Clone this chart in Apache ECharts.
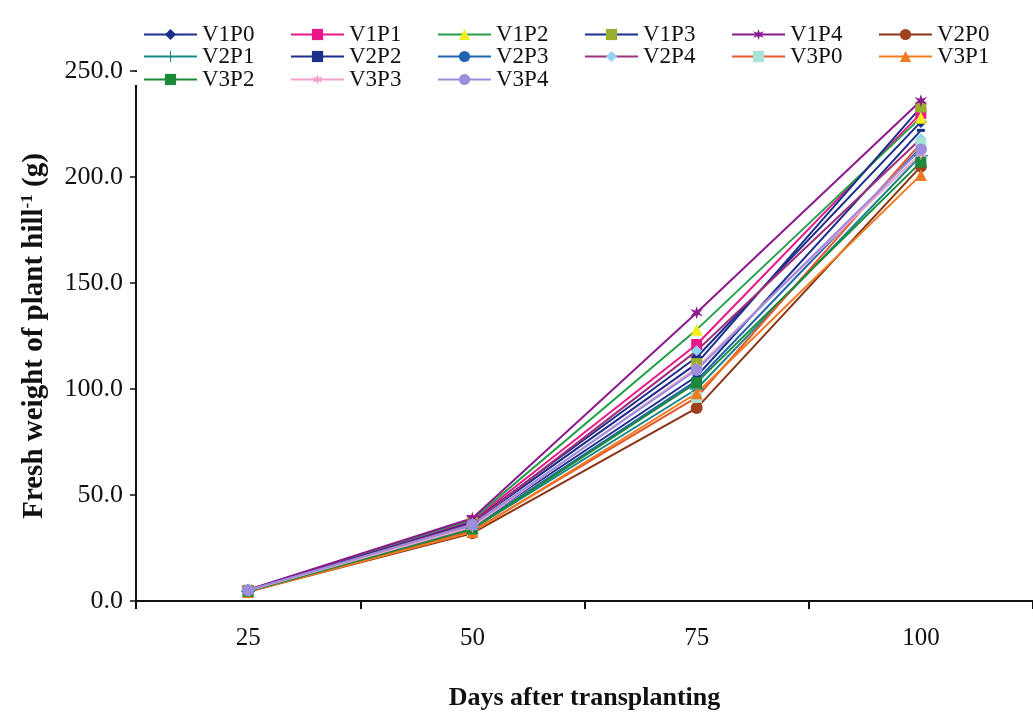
<!DOCTYPE html>
<html><head><meta charset="utf-8">
<script src="https://cdn.jsdelivr.net/npm/echarts@6/dist/echarts.min.js"></script>
<style>html,body{margin:0;padding:0;background:#fff}#c{width:1033px;height:716px}</style>
</head><body><div id="c"></div>
<script>
const days = ['25', '50', '75', '100'];
const yTicks = [0, 50, 100, 150, 200, 250];
const seriesNames = ['V1P0','V1P1','V1P2','V1P3','V1P4','V2P0','V2P1','V2P2','V2P3','V2P4','V3P0','V3P1','V3P2','V3P3','V3P4'];
const V1P0 = [4.8, 37.5, 115, 226];
const V1P1 = [5.0, 38.0, 121, 230];
const V1P2 = [5.2, 38.5, 128, 228];
const V1P3 = [5.0, 37.0, 112, 233];
const V1P4 = [5.3, 39.0, 136, 236];
const V2P0 = [4.5, 32.0, 91, 205];
const V2P1 = [4.6, 34.0, 100, 210];
const V2P2 = [4.8, 35.5, 106, 222];
const V2P3 = [4.7, 34.5, 104, 214];
const V2P4 = [5.0, 36.5, 118, 218];
const V3P0 = [4.4, 33.0, 96, 216];
const V3P1 = [4.3, 32.5, 98, 201];
const V3P2 = [4.6, 34.0, 103, 207];
const V3P3 = [4.9, 35.0, 110, 211];
const V3P4 = [5.1, 36.0, 109, 213];
const values = {V1P0,V1P1,V1P2,V1P3,V1P4,V2P0,V2P1,V2P2,V2P3,V2P4,V3P0,V3P1,V3P2,V3P3,V3P4};

const star = 'path://M0,-10L2,-3L9,-6L4,0L9,6L2,3L0,10L-2,3L-9,6L-4,0L-9,-6L-2,-3Z';
const styles = {
  V1P0:{line:'#1c2f8a', fill:'#1c2f8a', symbol:'diamond', size:12},
  V1P1:{line:'#e8178a', fill:'#e8178a', symbol:'rect', size:11},
  V1P2:{line:'#22a04a', fill:'#f4ee1a', symbol:'triangle', size:12},
  V1P3:{line:'#1c2f8a', fill:'#9aae2e', symbol:'rect', size:11},
  V1P4:{line:'#8a1a8e', fill:'#8a1a8e', symbol:star, size:13},
  V2P0:{line:'#8a3416', fill:'#a0401c', symbol:'circle', size:12},
  V2P1:{line:'#18888a', fill:'#18888a', symbol:'path://M-1,-10H1V-1H10V1H1V10H-1V1H-10V-1H-1Z', size:14},
  V2P2:{line:'#1c2f8a', fill:'#1c2f8a', symbol:'rect', size:[8,3]},
  V2P3:{line:'#2064b0', fill:'#2064b0', symbol:'none', size:0},
  V2P4:{line:'#a0307a', fill:'#8fd4f2', symbol:'diamond', size:11},
  V3P0:{line:'#e8582a', fill:'#a8e2d4', symbol:'rect', size:11},
  V3P1:{line:'#f07a20', fill:'#f07a20', symbol:'triangle', size:12},
  V3P2:{line:'#1a8a3a', fill:'#1a8a3a', symbol:'rect', size:11},
  V3P3:{line:'#f4a2cc', fill:'#f4a2cc', symbol:star, size:13},
  V3P4:{line:'#9c8edc', fill:'#9c8edc', symbol:'circle', size:12}
};

const series = seriesNames.map(n => ({
  name: n, type: 'line', data: values[n],
  symbol: styles[n].symbol, symbolSize: styles[n].size, showSymbol: styles[n].symbol !== 'none',
  lineStyle: {color: styles[n].line, width: 2},
  itemStyle: {color: styles[n].fill, borderWidth: 0},
  color: styles[n].line,
  emphasis: {disabled: true}
}));

const rows = [seriesNames.slice(0,6), seriesNames.slice(6,12), seriesNames.slice(12)];
const rowTops = [23, 45, 68];
const legends = rows.map((r, i) => ({
  data: r, left: 143, top: rowTops[i], orient: 'horizontal',
  itemWidth: 53, itemHeight: 14, itemGap: 8, padding: 0,
  textStyle: {fontFamily: 'Liberation Serif', fontSize: 23, color: '#111', width: 80, lineHeight: 22, padding: [0,0,0,0]},
  selectedMode: false
}));

const chart = echarts.init(document.getElementById('c'), null, {renderer: 'canvas'});
chart.setOption({
  animation: false,
  backgroundColor: '#fff',
  legend: legends,
  grid: {left: 136, right: -7, top: 71, bottom: 104, containLabel: false},
  xAxis: {
    type: 'category', data: days, boundaryGap: true,
    name: 'Days after transplanting', nameLocation: 'middle', nameGap: 84,
    nameTextStyle: {fontFamily: 'Liberation Serif', fontWeight: 'bold', fontSize: 26, color: '#111'},
    axisLine: {lineStyle: {color: '#111', width: 2}},
    axisTick: {show: true, inside: false, length: 8, lineStyle: {color: '#111', width: 2}},
    axisLabel: {fontFamily: 'Liberation Serif', fontSize: 25, color: '#111', margin: 25}
  },
  yAxis: {
    type: 'value', min: yTicks[0], max: yTicks[yTicks.length-1], interval: 50,
    name: 'Fresh weight of plant hill{sup|-1} (g)', nameLocation: 'middle', nameGap: 86,
    nameTextStyle: {fontFamily: 'Liberation Serif', fontWeight: 'bold', fontSize: 29, color: '#111',
      rich: {sup: {fontFamily: 'Liberation Serif', fontWeight: 'bold', fontSize: 17, color: '#111', verticalAlign: 'top', padding: [0,0,14,0]}}},
    axisLine: {show: true, lineStyle: {color: '#111', width: 2}},
    axisTick: {show: true, inside: false, length: 6, lineStyle: {color: '#111', width: 1.5}},
    splitLine: {show: false},
    axisLabel: {fontFamily: 'Liberation Serif', fontSize: 26, color: '#111', margin: 13,
      formatter: v => v.toFixed(1)}
  },
  graphic: [{type: 'rect', z: 100, shape: {x: 134, y: 72, width: 5, height: 13}, style: {fill: '#fff'}}],
  series: series
});
</script></body></html>
